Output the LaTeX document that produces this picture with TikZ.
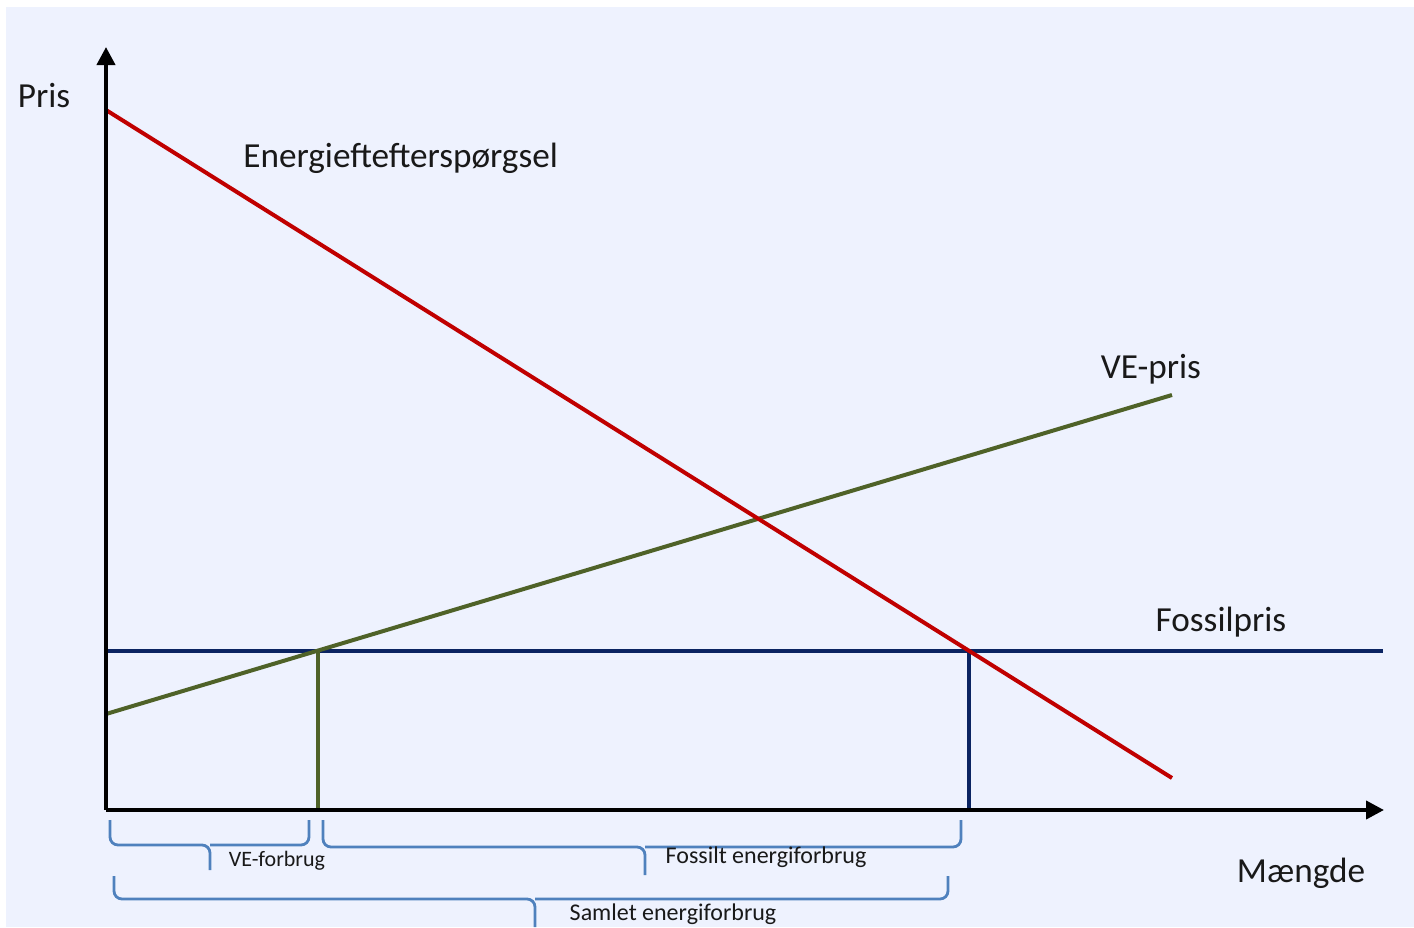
\documentclass[tikz,border=0pt]{standalone}
\usepackage{fontspec}
\setmainfont{Carlito}
\usetikzlibrary{arrows.meta}
\definecolor{bgc}{HTML}{EEF2FE}
\definecolor{dred}{HTML}{C00000}
\definecolor{dgreen}{HTML}{4F6228}
\definecolor{dblue}{HTML}{0B2462}
\definecolor{brc}{HTML}{4F81BD}
\tikzset{
  axis/.style={line width=2pt,-{Triangle[length=9pt,width=9pt]}},
  curve/.style={line width=2pt},
  bigl/.style={font=\fontsize{17.6}{20}\selectfont,inner sep=0pt,text=black!90},
  smalll/.style={font=\fontsize{11}{13}\selectfont,inner sep=0pt,text=black!90},
  widel/.style={font=\fontsize{12}{14}\selectfont,inner sep=0pt,text=black!90},
  brace/.style={draw=brc,line width=1.4pt,rounded corners=4pt}
}
\begin{document}
\begin{tikzpicture}[x=0.5pt,y=-0.5pt]
\useasboundingbox (0,0) rectangle (1414,927);
\fill[bgc] (6,7) rectangle (1414,927);
% coordinates
\coordinate (O) at (106,810);
\coordinate (ytip) at (106,47);
\coordinate (xtip) at (1384,810);
\coordinate (r1) at (106,110);
\coordinate (r2) at (1172,778);
\coordinate (g1) at (106,714);
\coordinate (g2) at (1172,395);
\coordinate (b1) at (106,651);
\coordinate (b2) at (1383,651);
\coordinate (gv1) at (318,651);
\coordinate (gv2) at (318,810);
\coordinate (bv1) at (969,651);
\coordinate (bv2) at (969,810);
% lines
\draw[curve,dblue] (b1) -- (b2);
\draw[curve,dgreen] (gv1) -- (gv2);
\draw[curve,dblue] (bv1) -- (bv2);
\draw[curve,dgreen] (g1) -- (g2);
\draw[curve,dred] (r1) -- (r2);
\draw[axis] (O) -- (ytip);
\draw[axis] (O) -- (xtip);
% labels
\node[bigl] (pris) at (44,96) {Pris};
\node[bigl,anchor=west] (eft) at (243,158) {Energieftefterspørgsel};
\node[bigl] (vep) at (1151,369) {VE-pris};
\node[bigl] (fos) at (1221,622) {Fossilpris};
\node[bigl] (maeng) at (1301,873) {Mængde};
% braces
\draw[brace] (110,820) |- (210,845) -- (210,870);
\draw[brace] (210,845) -| (309,820);
\draw[brace] (323,820) |- (645,847) -- (645,875);
\draw[brace] (645,847) -| (961,820);
\draw[brace] (114,876) |- (535,899) -- (535,927);
\draw[brace] (535,899) -| (948,876);
\node[smalll] (vef) at (277,861) {VE-forbrug};
\node[widel] (foe) at (766,857) {Fossilt energiforbrug};
\node[widel] (sam) at (673,914) {Samlet energiforbrug};
\end{tikzpicture}
\end{document}
